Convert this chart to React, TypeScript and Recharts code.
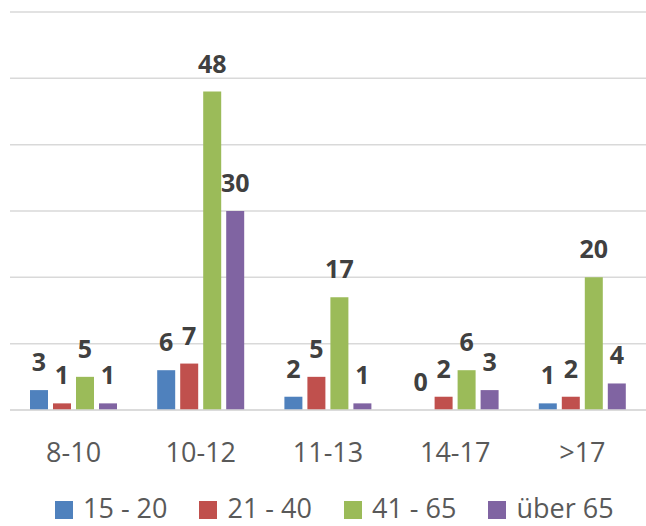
import { BarChart, Bar, XAxis, YAxis, CartesianGrid, LabelList } from 'recharts';

// age brackets on the x axis
const categories = ['8-10', '10-12', '11-13', '14-17', '>17'];

const series1520 = [3, 6, 2, 0, 1];
const series2140 = [1, 7, 5, 2, 2];
const series4165 = [5, 48, 17, 6, 20];
const seriesUeber65 = [1, 30, 1, 3, 4];

const yTicks = [0, 10, 20, 30, 40, 50, 60];

const seriesNames = ['15 - 20', '21 - 40', '41 - 65', 'über 65'];
const seriesColors = ['#4f81bd', '#c0504d', '#9bbb59', '#8064a2'];
const seriesValues = [series1520, series2140, series4165, seriesUeber65];

const data = categories.map((name, i) => ({
  name,
  s1: series1520[i],
  s2: series2140[i],
  s3: series4165[i],
  s4: seriesUeber65[i],
}));

const FONT = '"Open Sans", "Liberation Sans", sans-serif';
const LABEL_GAP = 19;
const BAR_SIZE = 18;
const BAR_GAP = 5;

function labelText(x: number, y: number, value: any, key?: string) {
  return (
    <text
      key={key}
      x={x}
      y={y - LABEL_GAP}
      textAnchor="middle"
      fill="#404040"
      fontSize={25}
      fontWeight="bold"
      fontFamily={FONT}
    >
      {value}
    </text>
  );
}

// Recharts drops zero-height bars (and their labels), so the "0" labels
// are drawn from the category tick, offset to the bar's slot in the group
function CategoryTick({ x, y, payload, index }: { x?: number; y?: number; payload?: { value: string }; index?: number }) {
  const cx = Number(x);
  const base = Number(y);
  const idx = index ?? 0;
  const n = seriesValues.length;
  return (
    <g>
      <text x={cx} y={base + 52} textAnchor="middle" fill="#595959" fontSize={27} fontFamily={FONT}>
        {payload?.value}
      </text>
      {seriesValues.map((vals, s) =>
        vals[idx] === 0
          ? labelText(cx + (s - (n - 1) / 2) * (BAR_SIZE + BAR_GAP), base, 0, `z-${s}`)
          : null,
      )}
    </g>
  );
}

function ValueLabel(props: any) {
  const { x, y, width, value } = props;
  if (Number(value) === 0) return null;
  return labelText(Number(x) + Number(width) / 2, Number(y), value);
}

function ChartLegend() {
  return (
    <div
      style={{
        position: 'absolute',
        left: 55,
        top: 489,
        display: 'flex',
        gap: 32,
        fontFamily: FONT,
        fontSize: 27,
        color: '#595959',
        whiteSpace: 'nowrap',
      }}
    >
      {seriesNames.map((n, i) => (
        <div key={n} style={{ display: 'flex', alignItems: 'center', gap: 10 }}>
          <div style={{ width: 18, height: 18, background: seriesColors[i], marginTop: 4 }} />
          <span>{n}</span>
        </div>
      ))}
    </div>
  );
}

export default function App() {
  const keys = ['s1', 's2', 's3', 's4'];
  return (
    <div
      style={{
        position: 'absolute',
        left: 0,
        top: 0,
        width: 646,
        height: 526,
        background: '#fff',
        overflow: 'hidden',
      }}
    >
      <BarChart
        width={646}
        height={526}
        data={data}
        margin={{ top: 12, right: 0, left: 10, bottom: 0 }}
        barSize={BAR_SIZE}
        barGap={BAR_GAP}
      >
        <CartesianGrid vertical={false} stroke="#d9d9d9" strokeWidth={1.5} />
        <YAxis hide domain={[0, 60]} ticks={yTicks} width={0} />
        <XAxis
          dataKey="name"
          height={116}
          tickLine={false}
          tickSize={0}
          tickMargin={0}
          axisLine={{ stroke: '#d9d9d9', strokeWidth: 1.5 }}
          tick={<CategoryTick />}
          interval={0}
        />
        {keys.map((k, i) => (
          <Bar key={k} dataKey={k} name={seriesNames[i]} fill={seriesColors[i]} isAnimationActive={false}>
            <LabelList dataKey={k} content={<ValueLabel />} />
          </Bar>
        ))}
      </BarChart>
      <ChartLegend />
    </div>
  );
}
